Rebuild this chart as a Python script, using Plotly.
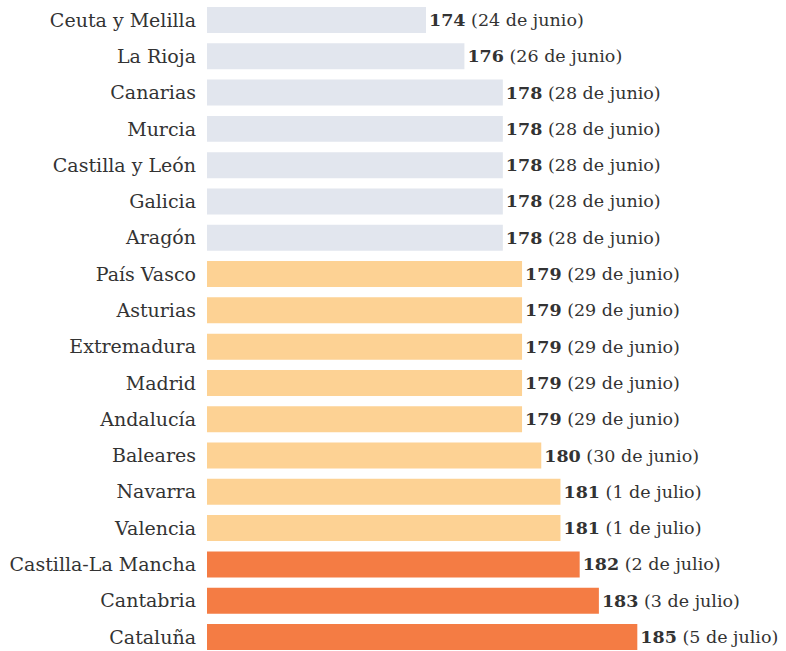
import plotly.graph_objects as go

regions = ["Ceuta y Melilla", "La Rioja", "Canarias", "Murcia", "Castilla y León",
           "Galicia", "Aragón", "País Vasco", "Asturias", "Extremadura", "Madrid",
           "Andalucía", "Baleares", "Navarra", "Valencia", "Castilla-La Mancha",
           "Cantabria", "Cataluña"]
values = [174, 176, 178, 178, 178, 178, 178, 179, 179, 179, 179, 179, 180, 181, 181, 182, 183, 185]
dates = ["24 de junio", "26 de junio", "28 de junio", "28 de junio", "28 de junio",
         "28 de junio", "28 de junio", "29 de junio", "29 de junio", "29 de junio",
         "29 de junio", "29 de junio", "30 de junio", "1 de julio", "1 de julio",
         "2 de julio", "3 de julio", "5 de julio"]
groups = ["bajo"] * 7 + ["medio"] * 8 + ["alto"] * 3

palette = {"bajo": "#e2e6ee", "medio": "#fdd294", "alto": "#f47c44"}
colors = [palette[g] for g in groups]
labels = [f"<b>{v}</b> ({d})" for v, d in zip(values, dates)]

FONT = "DejaVu Serif"

fig = go.Figure(go.Bar(
    y=regions, x=values, orientation="h",
    marker=dict(color=colors, line=dict(width=0)),
    text=labels, textposition="outside", cliponaxis=False,
    constraintext="none",
    textfont=dict(family=FONT, size=17.5, color="#333333"),
    hoverinfo="skip",
))

n = len(regions)
fig.update_layout(
    width=786, height=651,
    margin=dict(l=207, r=0, t=0, b=0, autoexpand=False),
    paper_bgcolor="white", plot_bgcolor="white",
    bargap=0.284,
    showlegend=False,
    xaxis=dict(range=[162.6, 192.74], visible=False, fixedrange=True, automargin=False),
    yaxis=dict(
        range=[n - 1 + 0.386, -0.551],
        categoryorder="array", categoryarray=regions,
        showgrid=False, zeroline=False, showline=False, ticks="",
        ticklabelstandoff=10, automargin=False, fixedrange=True,
        tickfont=dict(family=FONT, size=19, color="#333333"),
    ),
)

fig.write_html(
    "out.html",
    config={"displayModeBar": False, "staticPlot": True},
    post_script="document.body.style.margin='0';document.body.style.overflow='hidden';",
)
